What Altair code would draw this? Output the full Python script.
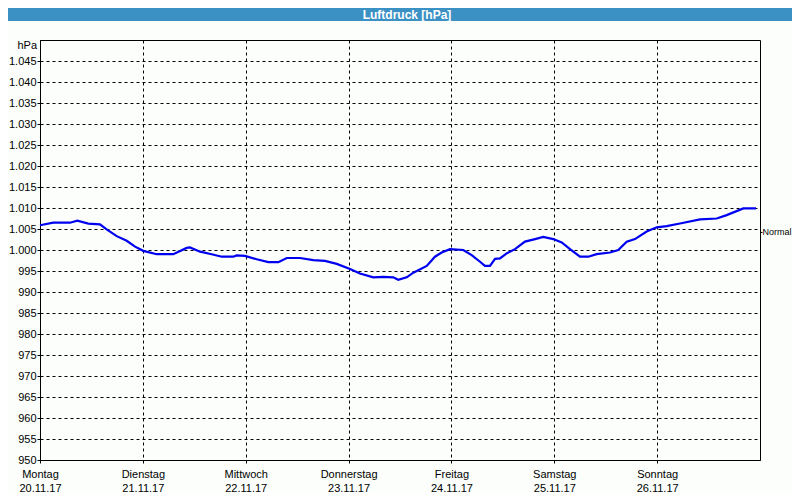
import altair as alt
import pandas as pd

title_text = "Luftdruck [hPa]"
unit_label = "hPa"
normal_label = "Normal"
day_names = ["Montag", "Dienstag", "Mittwoch", "Donnerstag", "Freitag", "Samstag", "Sonntag"]
day_dates = ["20.11.17", "21.11.17", "22.11.17", "23.11.17", "24.11.17", "25.11.17", "26.11.17"]
day_ticks = [0, 1, 2, 3, 4, 5, 6]
y_ticks = list(range(950, 1050, 5))
normal_value = 1004.3

t_days = [0.0, 0.129, 0.292, 0.363, 0.470, 0.583, 0.648, 0.746, 0.843, 0.924,
          1.004, 1.135, 1.296, 1.426, 1.458, 1.556, 1.669, 1.767, 1.879, 1.912,
          1.993, 2.107, 2.220, 2.317, 2.399, 2.528, 2.657, 2.771, 2.885, 3.014,
          3.111, 3.240, 3.338, 3.435, 3.483, 3.565, 3.630, 3.760, 3.840, 3.905,
          3.986, 4.115, 4.197, 4.278, 4.326, 4.375, 4.424, 4.472, 4.537, 4.618,
          4.715, 4.813, 4.893, 4.990, 5.072, 5.153, 5.250, 5.331, 5.412, 5.542,
          5.622, 5.704, 5.785, 5.898, 5.996, 6.093, 6.222, 6.417, 6.579, 6.676,
          6.838, 6.961]
pressure = [1005.9, 1006.5, 1006.5, 1007.0, 1006.3, 1006.1, 1004.9, 1003.3, 1002.2, 1000.8,
            999.8, 999.0, 999.0, 1000.5, 1000.6, 999.6, 999.0, 998.4, 998.4, 998.7,
            998.6, 997.8, 997.1, 997.1, 998.1, 998.1, 997.6, 997.4, 996.7, 995.5,
            994.4, 993.5, 993.6, 993.5, 992.9, 993.5, 994.6, 996.2, 998.4, 999.4,
            1000.2, 1000.0, 998.8, 997.2, 996.2, 996.2, 997.9, 998.0, 999.2, 1000.2,
            1002.0, 1002.6, 1003.1, 1002.6, 1001.8, 1000.2, 998.4, 998.4, 999.0, 999.4,
            1000.0, 1002.0, 1002.6, 1004.4, 1005.4, 1005.7, 1006.3, 1007.3, 1007.5, 1008.3,
            1009.9, 1009.9]

df = pd.DataFrame({"t": t_days, "p": pressure})
FONT = "Liberation Sans"
BLUE = "#3c91c4"

labels_expr = "[" + ",".join(f"['{n}','{d}']" for n, d in zip(day_names, day_dates)) + "][datum.value]"
y_expr = "datum.value >= 1000 ? '1.' + slice(format(datum.value, 'd'), 1) : format(datum.value, 'd')"

x_scale = alt.Scale(domain=[0, 7], nice=False, zero=False)
y_scale = alt.Scale(domain=[950, 1050], nice=False, zero=False)

line = alt.Chart(df).mark_line(color="#0000f0", strokeWidth=2.2).encode(
    x=alt.X("t:Q", scale=x_scale,
            axis=alt.Axis(values=day_ticks, labelExpr=labels_expr, title=None, grid=True,
                          gridDash=[3, 3], gridColor="black", gridOpacity=1,
                          tickSize=3, labelPadding=5, labelLineHeight=14,
                          labelAngle=0, labelAlign="center", labelBaseline="top",
                          labelFlush=False, labelOverlap=False)),
    y=alt.Y("p:Q", scale=y_scale,
            axis=alt.Axis(values=y_ticks, labelExpr=y_expr, title=None, grid=True,
                          gridDash=[3, 3], gridColor="black", gridOpacity=1,
                          tickSize=3, labelPadding=1, labelFlush=False, labelOverlap=False)),
)

normal = alt.Chart(pd.DataFrame({"p": [normal_value]})).mark_tick(opacity=0).encode(
    y=alt.Y("p:Q", scale=y_scale,
            axis=alt.Axis(orient="right", values=[normal_value], labelExpr=f"'{normal_label}'",
                          title=None, grid=False, domain=False, tickSize=2, labelPadding=0,
                          labelFont=FONT, labelFontSize=9, labelFlush=False)),
)

meta = pd.DataFrame({"title": [title_text], "unit": [unit_label]})

band = alt.Chart(meta).mark_rect(color=BLUE).encode(
    x=alt.value(-32), x2=alt.value(752), y=alt.value(-32), y2=alt.value(-19))
title = alt.Chart(meta).mark_text(color="white", font=FONT, fontSize=12, fontWeight="bold",
                                  baseline="middle", align="center").encode(
    x=alt.value(367), y=alt.value(-25.5), text="title:N")
unit = alt.Chart(meta).mark_text(color="black", font=FONT, fontSize=11, baseline="middle",
                                 align="right").encode(
    x=alt.value(-3), y=alt.value(6), text="unit:N")

chart = alt.layer(line, normal, band, title, unit).resolve_axis(
    y="independent"
).properties(
    width=720, height=420,
    padding={"left": 32, "top": 32, "right": 32, "bottom": 32},
    autosize=alt.AutoSizeParams(type="none"),
    background="#fbfefb",
).configure_view(
    stroke="black", strokeWidth=1
).configure_axis(
    domainColor="black", tickColor="black", labelColor="black",
    labelFont=FONT, labelFontSize=11
)

chart.save("out.html", embed_options={"renderer": "svg", "actions": False})
